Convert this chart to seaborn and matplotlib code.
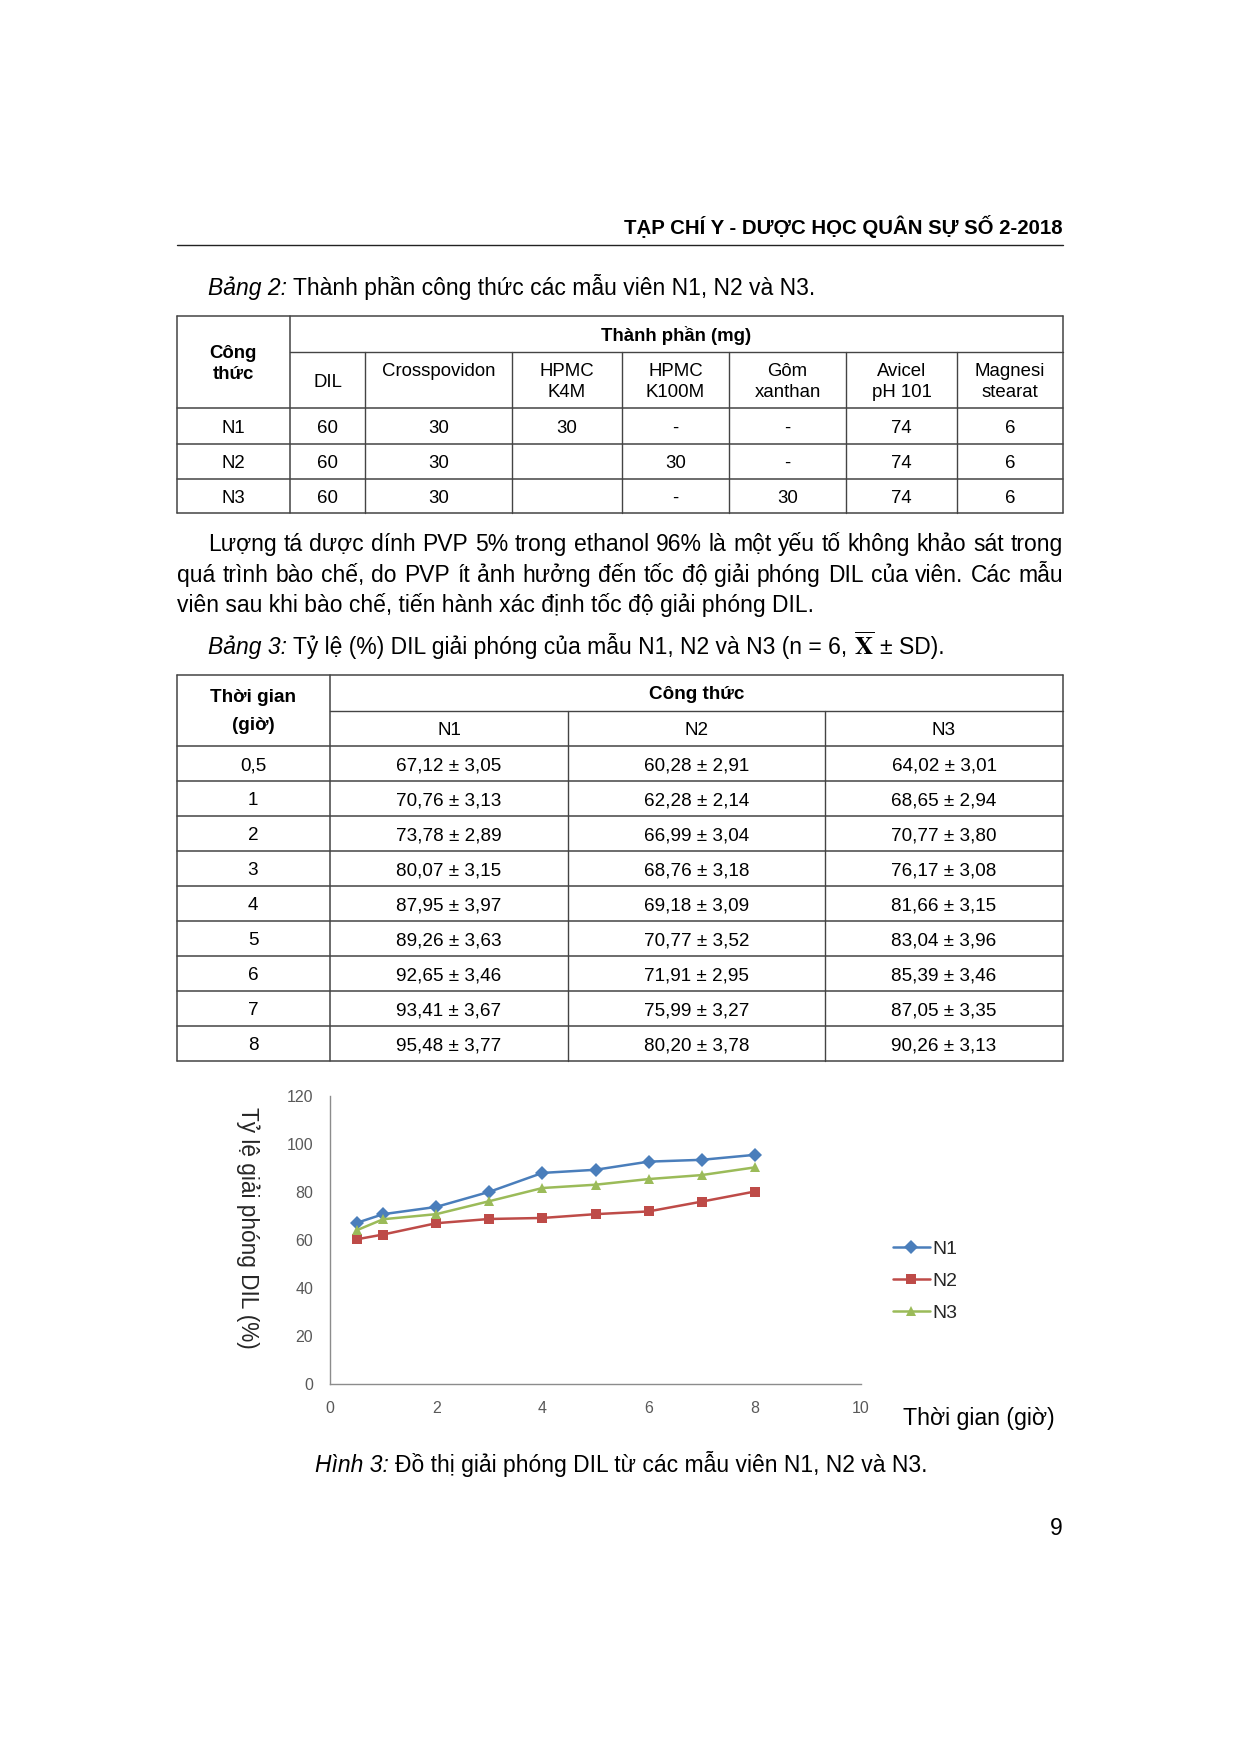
import matplotlib
matplotlib.use("Agg")
import matplotlib.pyplot as plt
import seaborn as sns
import pandas as pd

# ---- data ----
# Bang 2: thanh phan cong thuc (mg)
formulas = ["N1", "N2", "N3"]
comp_cols = [["DIL"], ["Crosspovidon"], ["HPMC", "K4M"], ["HPMC", "K100M"],
             ["Gôm", "xanthan"], ["Avicel", "pH 101"], ["Magnesi", "stearat"]]
comp_n1 = ["60", "30", "30", "-", "-", "74", "6"]
comp_n2 = ["60", "30", "", "30", "-", "74", "6"]
comp_n3 = ["60", "30", "", "-", "30", "74", "6"]

# Bang 3: ty le (%) DIL giai phong
hours = [0.5, 1, 2, 3, 4, 5, 6, 7, 8]
hour_labels = ["0,5", "1", "2", "3", "4", "5", "6", "7", "8"]
n1_mean = [67.12, 70.76, 73.78, 80.07, 87.95, 89.26, 92.65, 93.41, 95.48]
n1_sd = [3.05, 3.13, 2.89, 3.15, 3.97, 3.63, 3.46, 3.67, 3.77]
n2_mean = [60.28, 62.28, 66.99, 68.76, 69.18, 70.77, 71.91, 75.99, 80.20]
n2_sd = [2.91, 2.14, 3.04, 3.18, 3.09, 3.52, 2.95, 3.27, 3.78]
n3_mean = [64.02, 68.65, 70.77, 76.17, 81.66, 83.04, 85.39, 87.05, 90.26]
n3_sd = [3.01, 2.94, 3.80, 3.08, 3.15, 3.96, 3.46, 3.35, 3.13]

colors = {"N1": "#4a7ebb", "N2": "#be4b48", "N3": "#9bbb59"}
markers = {"N1": "D", "N2": "s", "N3": "^"}

sns.set_theme(style="white")
FONT = ["Liberation Sans", "DejaVu Sans"]
plt.rcParams["font.family"] = FONT
plt.rcParams["mathtext.fontset"] = "stix"

DPI = 100
W, H = 1239, 1754
fig = plt.figure(figsize=(W / DPI, H / DPI), dpi=DPI)
fig.patch.set_facecolor("white")

# page layer in pixel units
pg = fig.add_axes([0, 0, 1, 1])
pg.set_xlim(0, W)
pg.set_ylim(H, 0)
pg.axis("off")
r = fig.canvas.get_renderer()


def size_for(s, width, **kw):
    t = pg.text(0, 0, s, fontsize=10, **kw)
    w = t.get_window_extent(r).width
    t.remove()
    return 10 * width / w


def txt(x, yc, s, size, ha="left", **kw):
    # yc is the visual middle of capital letters
    return pg.text(x, yc + 0.36 * size * DPI / 72, s, fontsize=size,
                   ha=ha, va="baseline", color="black", **kw)


def space_w(size, **kw):
    a = pg.text(0, 0, "x x", fontsize=size, **kw)
    b = pg.text(0, 0, "xx", fontsize=size, **kw)
    d = a.get_window_extent(r).width - b.get_window_extent(r).width
    a.remove()
    b.remove()
    return d


def runs(x, yc, parts, size):
    sp = space_w(size)
    for s, scale, kw in parts:
        t = txt(x, yc, s, size * scale, **kw)
        x += t.get_window_extent(r).width + sp


def justify(x0, x1, yc, line, size):
    words = line.split()
    arts = [txt(0, yc, w, size) for w in words]
    widths = [a.get_window_extent(r).width for a in arts]
    gap = (x1 - x0 - sum(widths)) / (len(words) - 1)
    x = x0
    for a, w in zip(arts, widths):
        a.set_x(x)
        x += w + gap


body = size_for("viên sau khi bào chế, tiến hành xác định tốc độ giải phóng DIL.", 637)

# ---- header ----
head = size_for("TẠP CHÍ Y - DƯỢC HỌC QUÂN SỰ SỐ 2-2018", 437, weight="bold")
txt(1063, 227, "TẠP CHÍ Y - DƯỢC HỌC QUÂN SỰ SỐ 2-2018", head, ha="right", weight="bold")
pg.plot([177, 1063], [245, 245], color="#222222", lw=1.0)

# ---- Bang 2 ----
runs(208, 287, [("Bảng 2:", 1, {"style": "italic"}),
                ("Thành phần công thức các mẫu viên N1, N2 và N3.", 1, {})], body)

LC = "#444444"
x2 = [177, 290, 365, 512, 622, 729, 846, 957, 1063]
for y in [316, 408, 444, 479, 513]:
    pg.plot([177, 1063], [y, y], color=LC, lw=1.1)
pg.plot([290, 1063], [352, 352], color=LC, lw=1.0)
for x in [177, 290, 1063]:
    pg.plot([x, x], [316, 513], color=LC, lw=1.1)
for x in x2[2:-1]:
    pg.plot([x, x], [352, 513], color=LC, lw=1.0)

tab = size_for("Crosspovidon", 114)
txt(233, 351, "Công", tab, ha="center", weight="bold")
txt(233, 372, "thức", tab, ha="center", weight="bold")
txt((290 + 1063) / 2, 334, "Thành phần (mg)", tab, ha="center", weight="bold")
for i, lines in enumerate(comp_cols):
    cx = (x2[i + 1] + x2[i + 2]) / 2
    if lines[0] == "DIL":
        txt(cx, 380, lines[0], tab, ha="center")
    else:
        for j, s in enumerate(lines):
            txt(cx, 369 + 21 * j, s, tab, ha="center")
for k, (name, vals) in enumerate(zip(formulas, [comp_n1, comp_n2, comp_n3])):
    yc = 426 + 35 * k
    txt(233, yc, name, tab, ha="center")
    for i, v in enumerate(vals):
        txt((x2[i + 1] + x2[i + 2]) / 2, yc, v, tab, ha="center")

# ---- paragraph ----
justify(208, 1063, 543, "Lượng tá dược dính PVP 5% trong ethanol 96% là một yếu tố không khảo sát trong", body)
justify(177, 1063, 574, "quá trình bào chế, do PVP ít ảnh hưởng đến tốc độ giải phóng DIL của viên. Các mẫu", body)
txt(177, 604, "viên sau khi bào chế, tiến hành xác định tốc độ giải phóng DIL.", body)

# ---- Bang 3 ----
runs(208, 646, [("Bảng 3:", 1, {"style": "italic"}),
                ("Tỷ lệ (%) DIL giải phóng của mẫu N1, N2 và N3 (n = 6,", 1, {}),
                (r"$\overline{\mathbf{X}}$", 1.1, {}),
                ("± SD).", 1, {})], body)

x3 = [177, 330, 568, 825, 1063]
rows_y = [746 + 35 * i for i in range(len(hours) + 1)]
for y in [675] + rows_y:
    pg.plot([177, 1063], [y, y], color=LC, lw=1.1)
pg.plot([330, 1063], [711, 711], color=LC, lw=1.0)
for x in [177, 330, 1063]:
    pg.plot([x, x], [675, rows_y[-1]], color=LC, lw=1.1)
for x in [568, 825]:
    pg.plot([x, x], [711, rows_y[-1]], color=LC, lw=1.0)

tab3 = size_for("67,12 ± 3,05", 105)
txt(253, 695, "Thời gian", tab3, ha="center", weight="bold")
txt(253, 723, "(giờ)", tab3, ha="center", weight="bold")
txt((330 + 1063) / 2, 692, "Công thức", tab3, ha="center", weight="bold")
for i, name in enumerate(formulas):
    txt((x3[i + 1] + x3[i + 2]) / 2, 728, name, tab3, ha="center")


def fmt(v):
    return f"{v:.2f}".replace(".", ",")


for i, h in enumerate(hour_labels):
    yc = rows_y[i] + 17.5
    txt(253, yc, h, tab3, ha="center")
    for j, (m, s) in enumerate([(n1_mean, n1_sd), (n2_mean, n2_sd), (n3_mean, n3_sd)]):
        txt((x3[j + 1] + x3[j + 2]) / 2, yc, f"{fmt(m[i])} ± {fmt(s[i])}", tab3, ha="center")

# ---- chart ----
df = pd.DataFrame({
    "gio": hours * 3,
    "tyle": n1_mean + n2_mean + n3_mean,
    "mau": ["N1"] * len(hours) + ["N2"] * len(hours) + ["N3"] * len(hours),
})

ax = fig.add_axes([330 / W, 1 - 1384 / H, 531 / W, 288 / H])
ax.patch.set_alpha(0)
sns.lineplot(data=df, x="gio", y="tyle", hue="mau", style="mau", palette=colors,
             markers=markers, dashes=False, linewidth=1.8, markersize=7.5,
             markeredgewidth=0, ax=ax)
ax.set_xlim(0, 10)
ax.set_ylim(0, 120)
ax.set_xticks(range(0, 11, 2))
ax.set_yticks(range(0, 121, 20))
ax.set_xlabel("")
ax.set_ylabel("")
for s in ["top", "right"]:
    ax.spines[s].set_visible(False)
for s in ["left", "bottom"]:
    ax.spines[s].set_color("#8c8c8c")
    ax.spines[s].set_linewidth(1.0)
ax.tick_params(axis="both", direction="out", length=4, width=1, color="#8c8c8c",
               labelcolor="#595959", labelsize=11.5, pad=8)

leg = ax.get_legend()
handles = leg.legend_handles
for hd in handles:
    hd.set_markersize(7.5)
    hd.set_markeredgewidth(0)
labels = [t.get_text() for t in leg.get_texts()]
ax.legend(handles, labels, loc="upper left", bbox_to_anchor=(893 / W, 1 - 1240 / H),
          bbox_transform=fig.transFigure, frameon=False, fontsize=14,
          handlelength=1.9, handletextpad=0.1, labelspacing=0.75,
          borderpad=0, borderaxespad=0)

ylab = size_for("Tỷ lệ giải phóng DIL (%)", 243)
pg.text(248, 1228, "Tỷ lệ giải phóng DIL (%)", fontsize=ylab, rotation=-90,
        ha="center", va="center")
xlab = size_for("Thời gian (giờ)", 153)
txt(903, 1417, "Thời gian (giờ)", xlab)

# ---- caption + page number ----
runs(315, 1464, [("Hình 3:", 1, {"style": "italic"}),
                 ("Đồ thị giải phóng DIL từ các mẫu viên N1, N2 và N3.", 1, {})], body)
txt(1063, 1527, "9", body, ha="right")

plt.savefig("out.png", dpi=DPI)
